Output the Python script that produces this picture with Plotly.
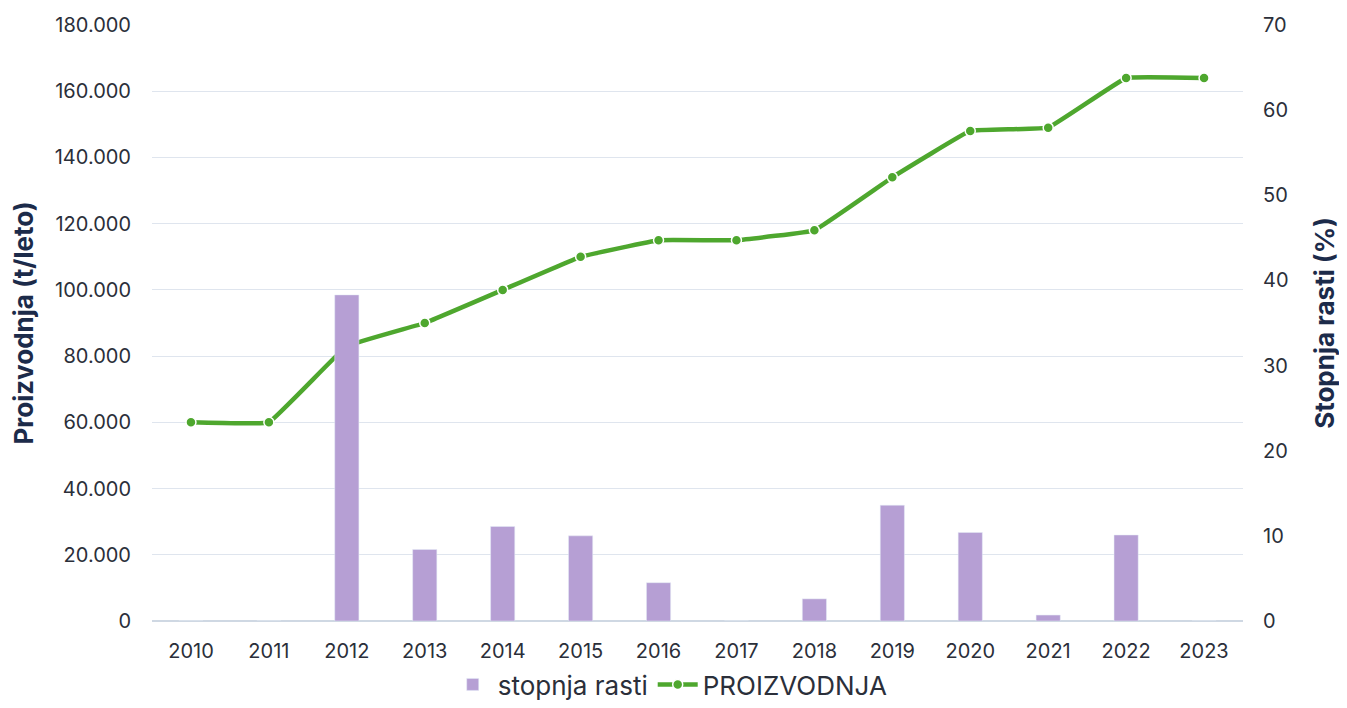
import plotly.graph_objects as go

leta = ["2010", "2011", "2012", "2013", "2014", "2015", "2016",
        "2017", "2018", "2019", "2020", "2021", "2022", "2023"]
proizvodnja = [60000, 60000, 83000, 90000, 100000, 110000, 115000,
               115000, 118000, 134000, 148000, 149000, 164000, 164000]
stopnja_rasti = [0, 0, 38.3, 8.4, 11.1, 10.0, 4.5,
                 0, 2.6, 13.6, 10.4, 0.7, 10.1, 0]

navy = "#1c2b4a"
tick_col = "#2b2f3a"
grid_col = "#dfe5ee"
font_fam = "Inter, Roboto, sans-serif"

fig = go.Figure()

fig.add_trace(go.Bar(
    x=leta, y=stopnja_rasti, name="stopnja rasti", yaxis="y2",
    marker_color="#b69fd4", width=0.31,
))

fig.add_trace(go.Scatter(
    x=leta, y=proizvodnja, name="PROIZVODNJA", mode="lines+markers",
    line=dict(color="#4ea72e", width=4.5, shape="spline", smoothing=0.2),
    marker=dict(size=10, color="#4ea72e", line=dict(color="white", width=1.5)),
))

# page body has an 8px margin, so the figure is sized to fit inside the window
fig.update_layout(
    width=1339, height=700,
    margin=dict(l=144, r=104, t=17, b=87),
    plot_bgcolor="white", paper_bgcolor="white",
    separators=",.",
    font=dict(family=font_fam, color=tick_col, size=20),
    showlegend=True,
    legend=dict(orientation="h", x=0.475, xanchor="center",
                yref="container", y=-0.012, yanchor="bottom",
                font=dict(size=26, color=tick_col), traceorder="normal",
                itemwidth=40, tracegroupgap=0),
    xaxis=dict(type="category", range=[-0.5, 13.5], showgrid=False, showline=False,
               automargin=False, ticks="outside", ticklen=12, tickcolor="white",
               tickfont=dict(size=20, color=tick_col)),
    yaxis=dict(range=[0, 180000], dtick=20000, tickformat=",d", automargin=False,
               gridcolor=grid_col, gridwidth=1.2, zeroline=True,
               zerolinecolor="#cfd8e3", zerolinewidth=1.5,
               title=dict(text="<b>Proizvodnja (t/leto)</b>",
                          font=dict(size=26, color=navy), standoff=20),
               ticks="outside", ticklen=16, tickcolor="white",
               tickfont=dict(size=20, color=tick_col)),
    yaxis2=dict(range=[0, 70], dtick=10, overlaying="y", side="right",
                showgrid=False, zeroline=False, automargin=False,
                title=dict(text="<b>Stopnja rasti (%)</b>",
                           font=dict(size=26, color=navy), standoff=28),
                ticks="outside", ticklen=15, tickcolor="white",
                tickfont=dict(size=20, color=tick_col)),
)

fig.write_html("out.html")
